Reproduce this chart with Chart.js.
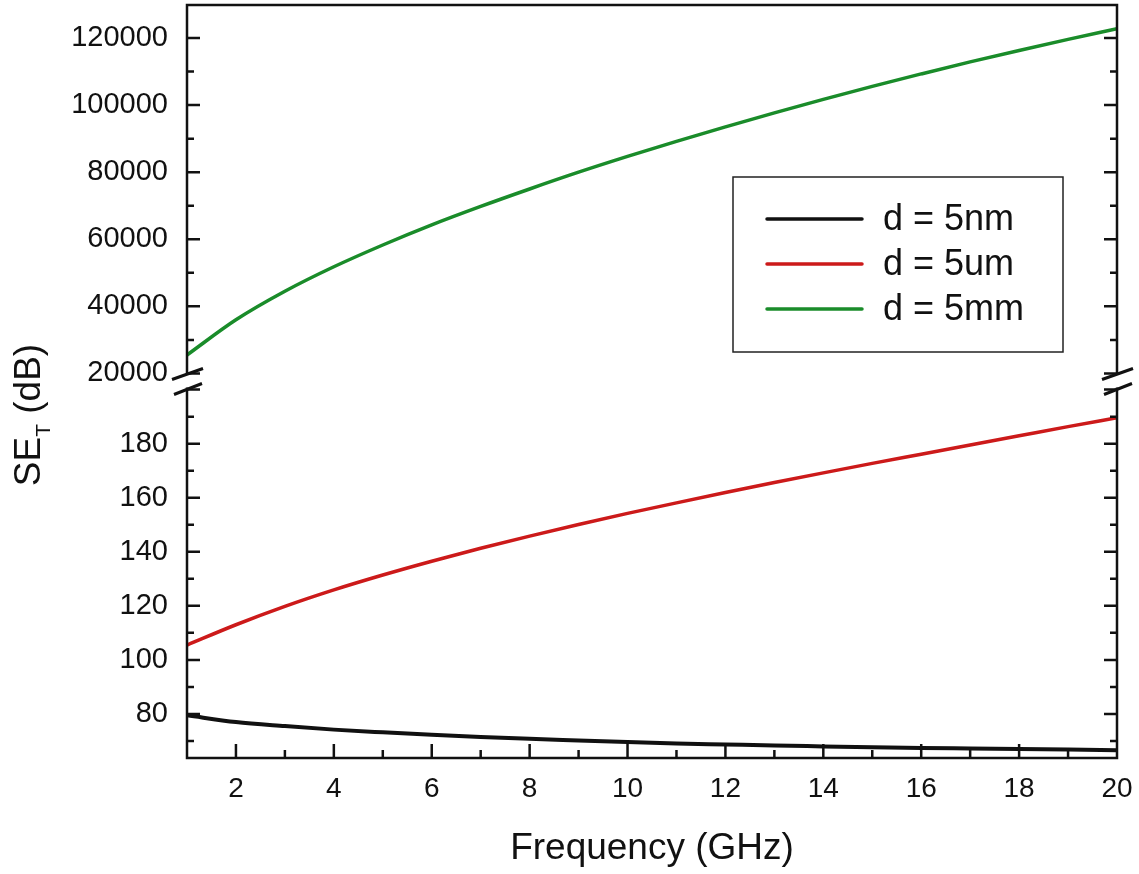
<!DOCTYPE html>
<html>
<head>
<meta charset="utf-8">
<script src="https://cdn.jsdelivr.net/npm/chart.js@4.4.1/dist/chart.umd.min.js"></script>
<style>
  html, body { margin: 0; padding: 0; background: #fff; }
  #wrap { width: 1139px; height: 874px; }
</style>
</head>
<body>
<div id="wrap"><canvas id="myChart" width="1139" height="874"></canvas></div>
<script>
// frequency in GHz
const freq = [1,2,3,4,5,6,7,8,9,10,11,12,13,14,15,16,17,18,19,20];
// SE_T (dB)
const se5nm = [79.5,77,75.5,74.2,73.2,72.3,71.5,70.8,70.2,69.6,69.1,68.7,68.3,68,67.7,67.4,67.2,67,66.8,66.6];
const se5um = [105.5,113,119.8,125.9,131.4,136.5,141.3,145.8,150.1,154.2,158.1,161.9,165.6,169.2,172.7,176.1,179.5,182.9,186.3,189.6];
const se5mm = [25500,36000,44500,51800,58300,64300,69800,75000,80000,84700,89200,93500,97700,101700,105600,109300,112900,116300,119600,122800];

const xTicks = [2,4,6,8,10,12,14,16,18,20];
const topTicks = [20000,40000,60000,80000,100000,120000];
const botTicks = [80,100,120,140,160,180];

const font = "'Liberation Sans', Arial, sans-serif";

function pts(ys) {
  return freq.map((f, i) => ({ x: f, y: ys[i] }));
}

// frame, inward ticks, axis break, legend and y title
const decor = {
  id: "decor",
  afterDraw(chart) {
    const ctx = chart.ctx;
    const a = chart.chartArea;
    const xs = chart.scales.x, yt = chart.scales.yTop, yb = chart.scales.yBot;
    const brk = yt.bottom;
    ctx.save();
    ctx.strokeStyle = "#111";
    ctx.lineWidth = 2.5;
    ctx.lineCap = "butt";

    // frame with a gap at the break
    ctx.beginPath();
    ctx.moveTo(a.left, brk - 8); ctx.lineTo(a.left, a.top); ctx.lineTo(a.right, a.top); ctx.lineTo(a.right, brk - 8);
    ctx.moveTo(a.left, brk + 6); ctx.lineTo(a.left, a.bottom); ctx.lineTo(a.right, a.bottom); ctx.lineTo(a.right, brk + 6);
    ctx.stroke();

    // y ticks on both sides, pointing in
    function yTick(scale, v, len) {
      const p = scale.getPixelForValue(v);
      if (p < scale.top + 2 || p > scale.bottom - 2) return;
      ctx.beginPath();
      ctx.moveTo(a.left, p); ctx.lineTo(a.left + len, p);
      ctx.moveTo(a.right, p); ctx.lineTo(a.right - len, p);
      ctx.stroke();
    }
    for (let v = 10000; v <= 130000; v += 10000) yTick(yt, v, v % 20000 === 0 ? 13 : 7);
    for (let v = 70; v <= 200; v += 10) yTick(yb, v, v % 20 === 0 ? 13 : 7);

    // x ticks pointing up
    for (let v = 2; v <= 19; v++) {
      const p = xs.getPixelForValue(v);
      const len = v % 2 === 0 ? 14 : 8;
      ctx.beginPath();
      ctx.moveTo(p, a.bottom); ctx.lineTo(p, a.bottom - len);
      ctx.stroke();
    }

    // break marks
    ctx.lineWidth = 3;
    [a.left, a.right].forEach(x0 => {
      ctx.beginPath();
      ctx.moveTo(x0 - 15, brk - 2); ctx.lineTo(x0 + 16, brk - 13);
      ctx.moveTo(x0 - 13, brk + 13); ctx.lineTo(x0 + 15, brk + 2);
      ctx.stroke();
    });

    // legend
    const lx = 733, ly = 177, lw = 330, lh = 175;
    ctx.lineWidth = 1.5;
    ctx.strokeStyle = "#222";
    ctx.strokeRect(lx, ly, lw, lh);
    ctx.font = "36px " + font;
    ctx.textBaseline = "middle";
    ctx.fillStyle = "#111";
    chart.data.datasets.forEach((ds, i) => {
      const y = 219 + i * 45;
      ctx.strokeStyle = ds.borderColor;
      ctx.lineWidth = 3.5;
      ctx.lineCap = "round";
      ctx.beginPath();
      ctx.moveTo(767, y); ctx.lineTo(862, y);
      ctx.stroke();
      ctx.fillText(ds.label, 883, y + 1);
    });

    // y title with subscript
    ctx.translate(30, 415);
    ctx.rotate(-Math.PI / 2);
    ctx.fillStyle = "#111";
    ctx.textBaseline = "middle";
    ctx.font = "37px " + font;
    const w1 = ctx.measureText("SE").width;
    ctx.font = "21px " + font;
    const w2 = ctx.measureText("T").width;
    ctx.font = "37px " + font;
    const w3 = ctx.measureText(" (dB)").width;
    let x = -(w1 + w2 + w3) / 2;
    ctx.fillText("SE", x, 0); x += w1;
    ctx.font = "21px " + font;
    ctx.fillText("T", x, 14); x += w2;
    ctx.font = "37px " + font;
    ctx.fillText(" (dB)", x, 0);
    ctx.restore();

    // x title
    ctx.save();
    ctx.font = "37px " + font;
    ctx.fillStyle = "#111";
    ctx.textAlign = "center";
    ctx.textBaseline = "middle";
    ctx.fillText("Frequency (GHz)", 652, 849);
    ctx.restore();
  }
};

function noPad(scale) {
  scale.paddingTop = 0;
  scale.paddingBottom = 0;
  scale.paddingLeft = 0;
  scale.paddingRight = 0;
}

const yBase = {
  type: "linear",
  position: "left",
  stack: "se",
  stackWeight: 1,
  grid: { display: false, drawTicks: false },
  border: { display: false },
  ticks: { color: "#111", font: { family: font, size: 29 }, padding: 19, callback: v => String(v) },
  afterFit(scale) { scale.width = 187; noPad(scale); }
};

new Chart(document.getElementById("myChart").getContext("2d"), {
  type: "line",
  data: {
    datasets: [
      { label: "d = 5nm", data: pts(se5nm), yAxisID: "yBot", borderColor: "#111111", borderWidth: 4 },
      { label: "d = 5um", data: pts(se5um), yAxisID: "yBot", borderColor: "#cc1a1a", borderWidth: 3.5 },
      { label: "d = 5mm", data: pts(se5mm), yAxisID: "yTop", borderColor: "#1a8c2a", borderWidth: 3.5 }
    ]
  },
  options: {
    responsive: false,
    animation: false,
    layout: { padding: { left: 0, right: 22, top: 5, bottom: 0 } },
    elements: { point: { radius: 0 }, line: { tension: 0.4, cubicInterpolationMode: "monotone" } },
    plugins: { legend: { display: false }, tooltip: { enabled: false } },
    scales: {
      x: {
        type: "linear",
        min: 1,
        max: 20,
        grid: { display: false, drawTicks: false },
        border: { display: false },
        ticks: { color: "#111", font: { family: font, size: 28 }, padding: 14, maxRotation: 0, callback: v => String(v) },
        afterBuildTicks(scale) { scale.ticks = xTicks.map(v => ({ value: v })); },
        afterFit(scale) { scale.height = 116; noPad(scale); }
      },
      yTop: Object.assign({}, yBase, {
        min: 17600,
        max: 129850,
        weight: 2,
        afterBuildTicks(scale) { scale.ticks = topTicks.map(v => ({ value: v })); }
      }),
      yBot: Object.assign({}, yBase, {
        min: 63.7,
        max: 203,
        weight: 1,
        afterBuildTicks(scale) { scale.ticks = botTicks.map(v => ({ value: v })); }
      })
    }
  },
  plugins: [decor]
});
</script>
</body>
</html>
